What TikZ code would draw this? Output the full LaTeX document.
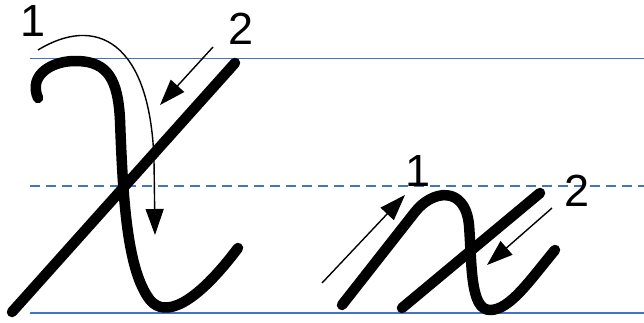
\documentclass[tikz,border=0pt]{standalone}
\usepackage{fontspec}
\setmainfont{Liberation Sans}
\usetikzlibrary{arrows.meta}
\definecolor{guide}{RGB}{68,114,196}
\tikzset{
  guideline/.style={draw=guide, line width=1.8pt},
  guidedash/.style={draw=guide, line width=1.8pt, dash pattern=on 10pt off 6pt},
  penstroke/.style={draw=black, line width=10.5pt, line cap=round, line join=round},
  dirarrow/.style={draw=black, line width=1.4pt, -{Triangle[length=26pt,width=18pt]}},
  numlabel/.style={font=\fontsize{45}{45}\selectfont, inner sep=0pt}
}
\begin{document}
\begin{tikzpicture}[x=1pt,y=-1pt]
\useasboundingbox[fill=white] (0,0) rectangle (644,322);
% guide lines
\draw[guideline] (30,58.5) -- (644,58.5);
\draw[guidedash] (30,186) -- (644,186);
\draw[guideline] (30,313) -- (644,313);
% big letter
\draw[penstroke] (38,98) .. controls (28,75) and (52,60) .. (78,61)
  .. controls (108,62) and (118,80) .. (120,120)
  .. controls (123,200) and (127,270) .. (150,300)
  .. controls (165,318) and (195,305) .. (238,248);
\draw[penstroke] (235,63) -- (12,312);
\node[numlabel] (b1) at (33,21) {1};
\node[numlabel] (b2) at (241,29) {2};
\draw[dirarrow] (38,50) .. controls (95,15) and (150,40) .. (154,160) -- (155,235);
\draw[dirarrow] (213,47) -- (160,105);
% small letter
\draw[penstroke] (342,305) -- (415,212)
  .. controls (432,190) and (465,185) .. (469,225)
  .. controls (472,265) and (470,310) .. (490,310)
  .. controls (510,310) and (530,280) .. (555,250);
\draw[penstroke] (540,193) -- (402,308);
\node[numlabel] (s1) at (418,171) {1};
\node[numlabel] (s2) at (577,191) {2};
\draw[dirarrow] (322,283) -- (405,195);
\draw[dirarrow] (552,208) -- (487,265);
\end{tikzpicture}
\end{document}
